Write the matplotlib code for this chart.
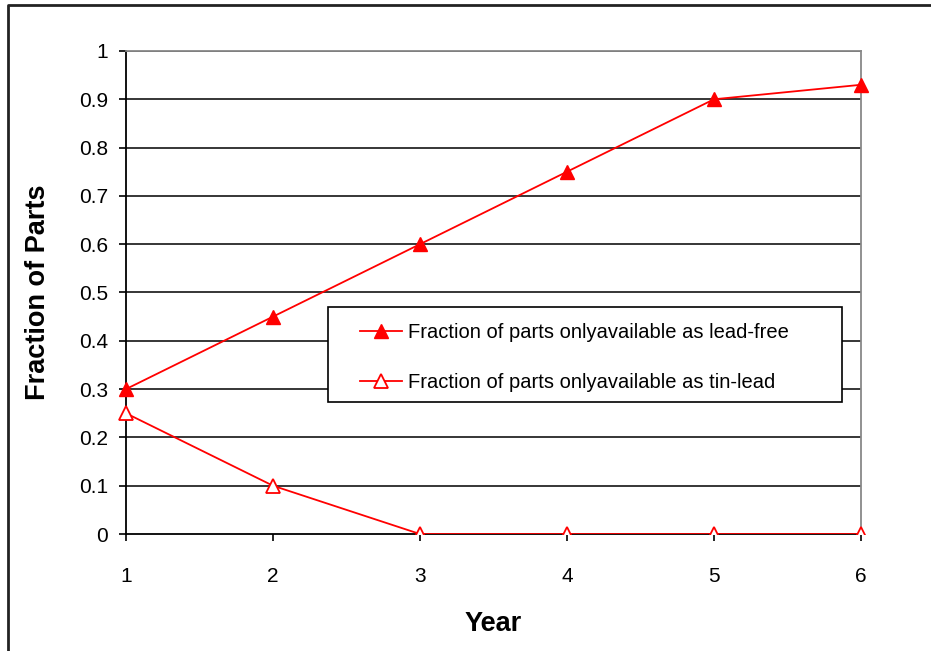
# 无铅转换期间元件供应比例折线图
import matplotlib.pyplot as plt
from matplotlib.lines import Line2D
from matplotlib.patches import Rectangle

plt.rcParams['font.family'] = ['Liberation Sans', 'DejaVu Sans']

years = [1, 2, 3, 4, 5, 6]
lead_free = [0.3, 0.45, 0.6, 0.75, 0.9, 0.93]  # 只有无铅版本的元件比例
tin_lead = [0.25, 0.1, 0, 0, 0, 0]  # 只有锡铅版本的元件比例
y_ticks = [0, 0.1, 0.2, 0.3, 0.4, 0.5, 0.6, 0.7, 0.8, 0.9, 1]
y_labels = ['0', '0.1', '0.2', '0.3', '0.4', '0.5', '0.6', '0.7', '0.8', '0.9', '1']
names = ['Fraction of parts onlyavailable as lead-free',
         'Fraction of parts onlyavailable as tin-lead']

fig = plt.figure(figsize=(9.31, 6.51), dpi=100)
ax = fig.add_axes([0.1353, 0.1797, 0.7895, 0.742])

# 网格线（黑色）
for v in y_ticks[1:]:
    ax.axhline(v, color='black', lw=1.1, zorder=1)

ax.plot(years, lead_free, color='red', lw=1.3, marker='^', ms=10,
        mfc='red', mec='red', clip_on=False, zorder=3, label=names[0])
l2, = ax.plot(years, tin_lead, color='red', lw=1.3, marker='^', ms=10,
              mfc='white', mec='red', mew=1.3, zorder=3, label=names[1])
# 只在底边裁剪标记
clip = Rectangle((-0.1, 0), 1.2, 1.2, transform=ax.transAxes)
l2.set_clip_path(clip)

ax.set_xlim(1, 6)
ax.set_ylim(0, 1)
ax.set_xticks(years)
ax.set_yticks(y_ticks)
ax.set_yticklabels(y_labels)
ax.tick_params(axis='both', labelsize=15, direction='out', length=5, width=1.2, color='black')
ax.tick_params(axis='x', pad=19)
ax.tick_params(axis='y', pad=8)

for s in ['left', 'bottom']:
    ax.spines[s].set_color('black')
    ax.spines[s].set_linewidth(1.3)
for s in ['top', 'right']:
    ax.spines[s].set_color('#888888')
    ax.spines[s].set_linewidth(1.3)

ax.set_xlabel('Year', fontsize=19.5, fontweight='bold', labelpad=18)
ax.set_ylabel('Fraction of Parts', fontsize=19.5, fontweight='bold', labelpad=20)

# 图例框单独画，图例本身不带边框
ax.add_patch(Rectangle((0.275, 0.273), 0.699, 0.197, transform=ax.transAxes,
                       facecolor='white', edgecolor='black', lw=1.2, zorder=4))
leg = ax.legend(loc='upper left', bbox_to_anchor=(0.318, 0.437), borderaxespad=0,
                fontsize=14.5, frameon=False, handlelength=2.1, borderpad=0,
                labelspacing=1.55, handletextpad=0.3)
leg.set_zorder(5)

# 外框（左、上）
fig.add_artist(Line2D([8 / 931, 8 / 931, 1.0], [0.0, 1 - 5 / 651, 1 - 5 / 651],
                      transform=fig.transFigure, color='#222222', lw=2))

plt.savefig('out.png', dpi=100)
